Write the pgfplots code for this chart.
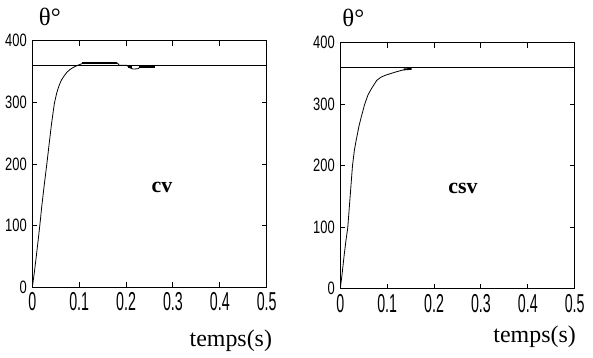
\documentclass[border=0pt]{standalone}
\usepackage{fontspec}
\setmainfont{Liberation Serif}
\newfontfamily\tickfont[FakeStretch=0.72]{Liberation Sans}
\newfontfamily\xtickfont[FakeStretch=0.55]{Liberation Sans}
\usepackage{pgfplots}
\pgfplotsset{compat=1.18}
\pgfplotsset{
  mstyle/.style={
    scale only axis,
    width=234.4bp,
    xmin=0, xmax=0.5, ymin=0, ymax=400,
    xtick={0,0.1,...,0.5},
    xticklabels={0,0.1,0.2,0.3,0.4,0.5},
    ytick={0,100,200,300,400},
    tick align=inside,
    xtick pos=both, ytick pos=both,
    major tick length=5bp,
    axis line style={line width=1.2bp},
    every tick/.style={black, line width=0.9bp},
    /pgf/number format/assume math mode=true,
    yticklabel style={font=\tickfont\fontsize{18}{18}\selectfont, inner sep=0pt, xshift=-5.4bp},
    xticklabel style={font=\xtickfont\fontsize{26}{26}\selectfont, inner sep=0pt, yshift=-5.4bp},
    clip mode=individual,
  }
}
\begin{document}
\begin{tikzpicture}
\useasboundingbox (0,0) rectangle (593bp,358bp);
% left: cv
\begin{axis}[mstyle, height=246.6bp, at={(32.3bp,70.7bp)}, anchor=south west]
\addplot[black, line width=1.2bp] coordinates {(0,360) (0.5,360)};
\addplot[black, line width=0.8bp] coordinates {
(0,0) (0.004,22) (0.008,47) (0.012,73) (0.016,100) (0.020,130) (0.025,163) (0.031,200)
(0.036,233) (0.041,265) (0.047,298) (0.052,315) (0.057,327) (0.062,336) (0.068,343)
(0.074,349) (0.080,353) (0.087,356.5) (0.095,359.5) (0.105,362.5) (0.11,363.5)};
\addplot[black, line width=2bp] coordinates {(0.105,364) (0.181,364)};
\addplot[black, line width=0.8bp] coordinates {(0.181,364) (0.186,360) (0.202,360) (0.208,356) (0.215,354) (0.225,354.5) (0.23,357)};
\addplot[black, line width=1.8bp] coordinates {(0.205,357.5) (0.212,357.5)};
\addplot[black, line width=1.8bp] coordinates {(0.228,357.5) (0.262,357.5)};
\node[font=\fontsize{25}{25}\selectfont] at (axis description cs:0.075,1.095) {θ°};
\node[font=\bfseries\fontsize{22}{22}\selectfont] at (axis description cs:0.553,0.403) {cv};
\node[font=\fontsize{24}{24}\selectfont] at (axis description cs:0.847,-0.218) {temps(s)};
\end{axis}
% right: csv
\begin{axis}[mstyle, height=246bp, at={(340.3bp,69.3bp)}, anchor=south west]
\addplot[black, line width=1.2bp] coordinates {(0,360) (0.5,360)};
\addplot[black, line width=0.8bp] coordinates {
(0,0) (0.004,25) (0.008,53) (0.012,78) (0.016,100) (0.021,150) (0.026,200) (0.030,225)
(0.034,242) (0.040,265) (0.045,280) (0.052,300) (0.059,315) (0.067,326) (0.078,339)
(0.087,344) (0.096,347) (0.108,350) (0.121,353) (0.133,355.5) (0.144,357)};
\addplot[black, line width=1.8bp] coordinates {(0.135,356.5) (0.152,357.5)};
\node[font=\fontsize{25}{25}\selectfont] at (axis description cs:0.056,1.10) {θ°};
\node[font=\bfseries\fontsize{22}{22}\selectfont] at (axis description cs:0.523,0.409) {csv};
\node[font=\fontsize{24}{24}\selectfont] at (axis description cs:0.829,-0.196) {temps(s)};
\end{axis}
\end{tikzpicture}
\end{document}
